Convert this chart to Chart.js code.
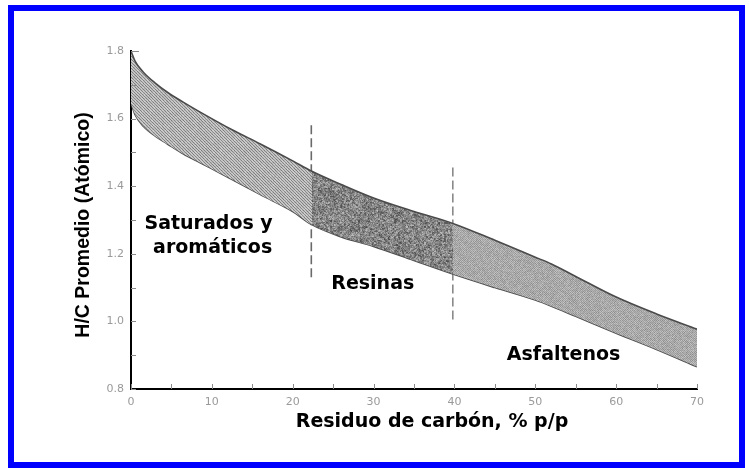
<!DOCTYPE html>
<html>
<head>
<meta charset="utf-8">
<script src="https://cdn.jsdelivr.net/npm/chart.js@4.4.1/dist/chart.umd.min.js"></script>
<style>
  html, body { margin: 0; padding: 0; background: #ffffff; }
  #wrap { position: relative; width: 749px; height: 468px; overflow: hidden; }
  #wrap canvas { position: absolute; left: 0; top: 0; }
  #frame {
    position: absolute; left: 8px; top: 5px; width: 737px; height: 463px;
    box-sizing: border-box; border: 6px solid #0000ff; pointer-events: none;
  }
</style>
</head>
<body>
<div id="wrap">
  <canvas id="chart" width="749" height="468"></canvas>
  <div id="frame"></div>
</div>
<script>
// Carbon residue (% w/w) sampled along the band
const carbonResidue = [0, 0.5, 1.5, 3, 4.5, 6.5, 8.5, 12.5, 16, 20, 22.3, 26, 30, 35, 39.8, 45, 50, 52, 55, 60, 65, 70];
// Upper and lower limits of the average atomic H/C ratio
const hcUpper = [1.80, 1.77, 1.738, 1.705, 1.678, 1.648, 1.62, 1.567, 1.525, 1.475, 1.445, 1.405, 1.365, 1.325, 1.29, 1.24, 1.19, 1.17, 1.133, 1.072, 1.022, 0.977];
const hcLower = [1.645, 1.612, 1.578, 1.548, 1.525, 1.495, 1.47, 1.42, 1.375, 1.325, 1.287, 1.25, 1.222, 1.18, 1.14, 1.10, 1.063, 1.045, 1.015, 0.965, 0.917, 0.866];

// Fraction boundaries (dashed separators)
const dividerX = [22.3, 39.8];
const dividerTop = [1.58, 1.455];
const dividerBottom = [1.13, 1.005];

// Axis tick labels
const xTickValues = [0, 10, 20, 30, 40, 50, 60, 70];
const yTickValues = [0.8, 1.0, 1.2, 1.4, 1.6, 1.8];

// Region names
const regionNames = ['Saturados y', 'aromáticos', 'Resinas', 'Asfaltenos'];
const regionAnchorX = [9.6, 10.1, 29.9, 53.5];
const regionAnchorY = [1.273, 1.203, 1.096, 0.886];

const xTitle = 'Residuo de carbón, % p/p';
const yTitle = 'H/C Promedio (Atómico)';

function noise(x, y) {
  let h = (Math.imul(x, 374761393) + Math.imul(y, 668265263)) | 0;
  h = Math.imul(h ^ (h >>> 13), 1274126177);
  h = h ^ (h >>> 16);
  return ((h >>> 0) % 1000) / 1000;
}

// Textured fill for the band: hatched, stippled and dotted zones
let bandCache = null;
function bandFill(context) {
  const chart = context.chart;
  const area = chart.chartArea;
  const xs = chart.scales && chart.scales.x;
  if (!area || !xs) return '#aaaaaa';
  const key = [chart.width, chart.height, area.left, area.right, area.top, area.bottom].join(',');
  if (bandCache && bandCache.key === key) return bandCache.pattern;
  const w = chart.width, h = chart.height;
  const off = document.createElement('canvas');
  off.width = w; off.height = h;
  const g = off.getContext('2d');
  const img = g.createImageData(w, h);
  const x1 = xs.getPixelForValue(dividerX[0]);
  const x2 = xs.getPixelForValue(dividerX[1]);
  for (let y = 0; y < h; y++) {
    for (let x = 0; x < w; x++) {
      const n = noise(x, y);
      let v;
      if (x < x1) {
        const t = ((x - y) % 3 + 3) % 3;
        v = (t === 0 ? 132 : 196) + (n - 0.5) * 24;
      } else if (x < x2) {
        const blob = noise(x >> 1, y >> 1);
        v = 72 + (0.55 * n + 0.45 * blob) * 120;
      } else {
        const t = (x + y) % 2;
        v = (t === 0 ? 154 : 184) + (n - 0.5) * 30;
      }
      v = Math.max(0, Math.min(255, v));
      const i = (y * w + x) * 4;
      img.data[i] = v; img.data[i + 1] = v; img.data[i + 2] = v; img.data[i + 3] = 255;
    }
  }
  g.putImageData(img, 0, 0);
  const pattern = chart.ctx.createPattern(off, 'no-repeat');
  bandCache = { key, pattern };
  return pattern;
}

const pts = (xsArr, ysArr) => xsArr.map((x, i) => ({ x, y: ysArr[i] }));

const decor = {
  id: 'decor',
  afterDraw(chart) {
    const { ctx, chartArea: a, scales: { x, y } } = chart;
    ctx.save();
    // inward minor ticks
    ctx.strokeStyle = '#8a8a8a';
    ctx.lineWidth = 1;
    ctx.beginPath();
    for (let k = 0; k <= 10; k++) {
      const py = Math.round(y.getPixelForValue(0.8 + k * 0.1)) + 0.5;
      ctx.moveTo(a.left, py);
      ctx.lineTo(a.left + (k === 10 ? 8 : 5), py);
    }
    for (let k = 0; k <= 14; k++) {
      const px = Math.round(x.getPixelForValue(k * 5)) + 0.5;
      ctx.moveTo(px, a.bottom);
      ctx.lineTo(px, a.bottom - 5);
    }
    ctx.stroke();

    // region names
    ctx.fillStyle = '#000';
    ctx.textAlign = 'center';
    ctx.textBaseline = 'alphabetic';
    ctx.font = 'bold 19px "DejaVu Sans", sans-serif';
    regionNames.forEach((t, i) => {
      ctx.fillText(t, x.getPixelForValue(regionAnchorX[i]), y.getPixelForValue(regionAnchorY[i]));
    });

    // axis titles
    ctx.font = 'bold 19px "DejaVu Sans", sans-serif';
    ctx.fillText(xTitle, a.left + 301, a.bottom + 38);
    ctx.translate(a.left - 47, (a.top + a.bottom) / 2 + 5);
    ctx.rotate(-Math.PI / 2);
    ctx.textBaseline = 'middle';
    ctx.font = 'bold 19.5px "Liberation Sans", Arial, sans-serif';
    ctx.fillText(yTitle, 0, 0);
    ctx.restore();
  }
};

const tickFont = { family: '"DejaVu Sans", sans-serif', size: 11 };

new Chart(document.getElementById('chart'), {
  type: 'line',
  data: {
    datasets: [
      {
        data: pts(carbonResidue, hcUpper),
        fill: '+1',
        backgroundColor: bandFill,
        borderColor: '#4a4a4a',
        borderWidth: 1.6,
        pointRadius: 0,
        cubicInterpolationMode: 'monotone'
      },
      {
        data: pts(carbonResidue, hcLower),
        fill: false,
        borderColor: '#4a4a4a',
        borderWidth: 1.6,
        pointRadius: 0,
        cubicInterpolationMode: 'monotone'
      },
      {
        data: [{ x: dividerX[0], y: dividerTop[0] }, { x: dividerX[0], y: dividerBottom[0] }],
        fill: false,
        borderColor: '#6a6a6a',
        borderWidth: 1.6,
        borderDash: [9, 4],
        pointRadius: 0,
        tension: 0
      },
      {
        data: [{ x: dividerX[1], y: dividerTop[1] }, { x: dividerX[1], y: dividerBottom[1] }],
        fill: false,
        borderColor: '#8a8a8a',
        borderWidth: 1.6,
        borderDash: [9, 4],
        pointRadius: 0,
        tension: 0
      }
    ]
  },
  options: {
    responsive: false,
    animation: false,
    devicePixelRatio: 1,
    layout: { padding: { left: 0, top: 51, right: 52, bottom: 49 } },
    plugins: { legend: { display: false }, tooltip: { enabled: false } },
    scales: {
      x: {
        type: 'linear',
        min: 0, max: 70,
        z: 1,
        afterBuildTicks: s => { s.ticks = xTickValues.map(v => ({ value: v })); },
        afterFit: s => { s.height = 30; },
        ticks: { color: '#9a9a9a', font: tickFont, padding: 7, maxRotation: 0, autoSkip: false, callback: v => String(v) },
        grid: { display: false, drawTicks: false },
        border: { display: true, color: '#000', width: 2 }
      },
      y: {
        type: 'linear',
        min: 0.8, max: 1.8,
        z: 1,
        afterBuildTicks: s => { s.ticks = yTickValues.map(v => ({ value: v })); },
        afterFit: s => { s.width = 131; },
        ticks: { color: '#9a9a9a', font: tickFont, padding: 7, autoSkip: false, callback: v => Number(v).toFixed(1) },
        grid: { display: false, drawTicks: false },
        border: { display: true, color: '#000', width: 2 }
      }
    }
  },
  plugins: [decor]
});
</script>
</body>
</html>
